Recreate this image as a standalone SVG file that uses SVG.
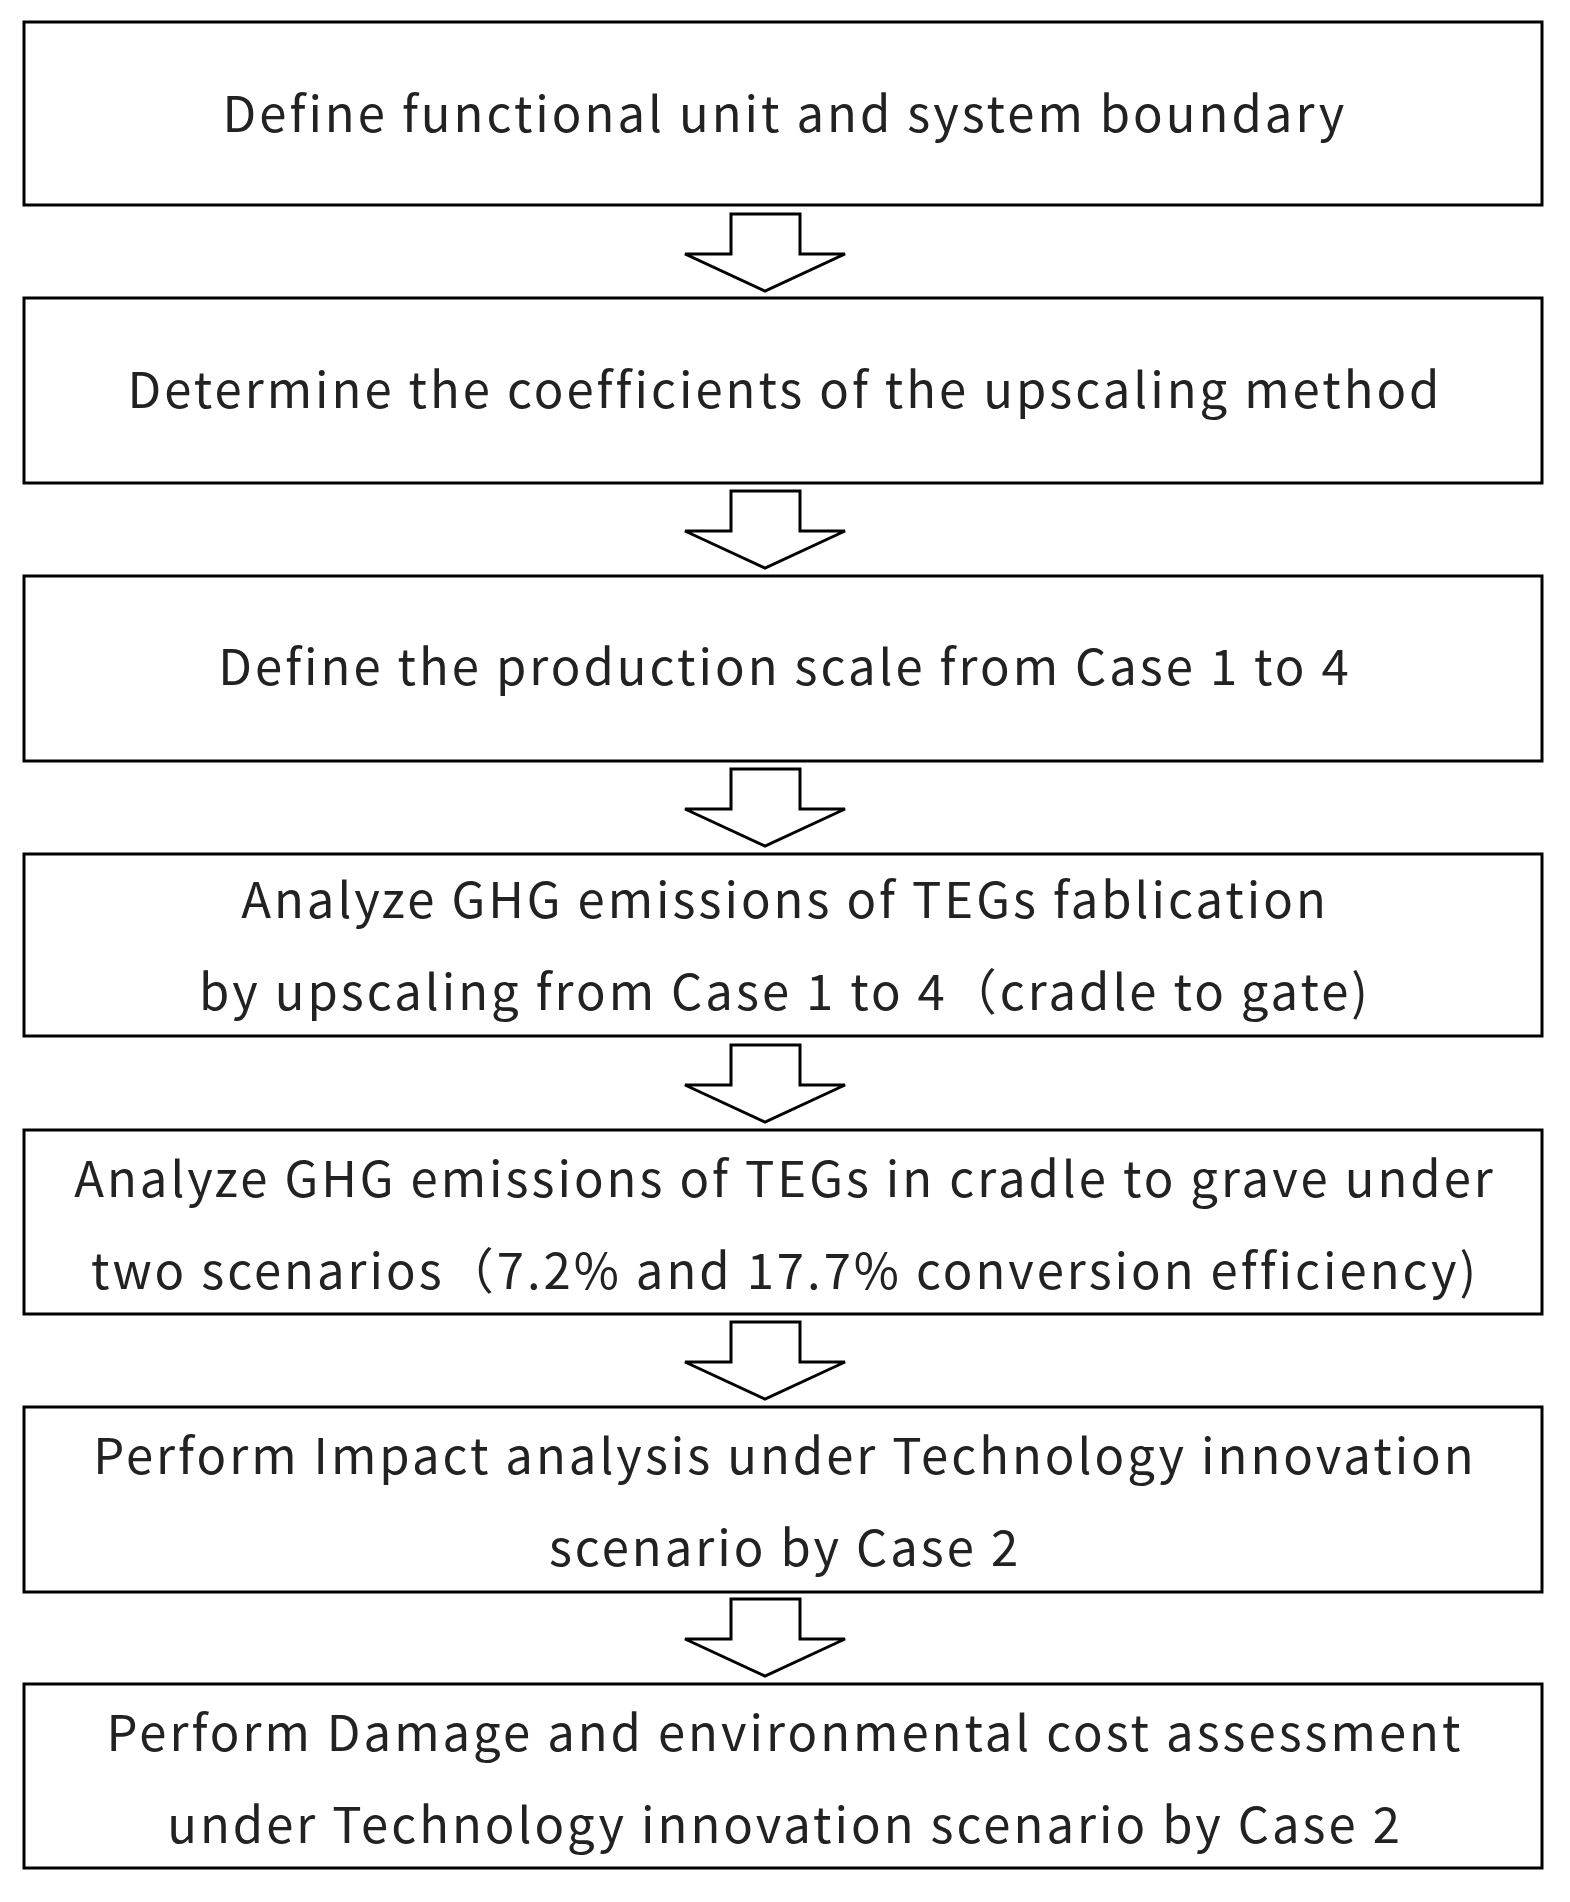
<svg xmlns="http://www.w3.org/2000/svg" width="1570" height="1902" viewBox="0 0 1570 1902">
<style>
.b{fill:#fff;stroke:#000;stroke-width:3}
.t{font-family:"Noto Sans CJK JP","Noto Sans",sans-serif;font-size:49px;letter-spacing:3px;fill:#222;text-anchor:middle;dominant-baseline:central}
.a{fill:#fff;stroke:#000;stroke-width:3;stroke-linejoin:miter}
</style>
<rect width="1570" height="1902" fill="#fff"/>
<g id="connectors">
<path class="a" d="M731,214 H800 V254 H845 L765,291 L685,254 H731 Z"/>
<path class="a" d="M731,491 H800 V531 H845 L765,568 L685,531 H731 Z"/>
<path class="a" d="M731,769 H800 V809 H845 L765,846 L685,809 H731 Z"/>
<path class="a" d="M731,1045 H800 V1085 H845 L765,1122 L685,1085 H731 Z"/>
<path class="a" d="M731,1322 H800 V1362 H845 L765,1399 L685,1362 H731 Z"/>
<path class="a" d="M731,1599 H800 V1639 H845 L765,1676 L685,1639 H731 Z"/>
</g>
<g id="n1"><rect class="b" x="24" y="22" width="1518" height="183"/><text class="t" x="785" y="110">Define functional unit and system boundary</text></g>
<g id="n2"><rect class="b" x="24" y="298" width="1518" height="185"/><text class="t" x="785" y="386">Determine the coefficients of the upscaling method</text></g>
<g id="n3"><rect class="b" x="24" y="576" width="1518" height="185"/><text class="t" x="785" y="663">Define the production scale from Case 1 to 4</text></g>
<g id="n4"><rect class="b" x="24" y="854" width="1518" height="182"/><text class="t" x="785" y="896">Analyze GHG emissions of TEGs fablication</text><text class="t" x="785" y="988">by upscaling from Case 1 to 4（cradle to gate)</text></g>
<g id="n5"><rect class="b" x="24" y="1130" width="1518" height="184"/><text class="t" x="785" y="1175">Analyze GHG emissions of TEGs in cradle to grave under</text><text class="t" x="785" y="1267">two scenarios（7.2% and 17.7% conversion efficiency)</text></g>
<g id="n6"><rect class="b" x="24" y="1407" width="1518" height="185"/><text class="t" x="785" y="1452">Perform Impact analysis under Technology innovation</text><text class="t" x="785" y="1544">scenario by Case 2</text></g>
<g id="n7"><rect class="b" x="24" y="1684" width="1518" height="184"/><text class="t" x="785" y="1729">Perform Damage and environmental cost assessment</text><text class="t" x="785" y="1821">under Technology innovation scenario by Case 2</text></g>
</svg>
